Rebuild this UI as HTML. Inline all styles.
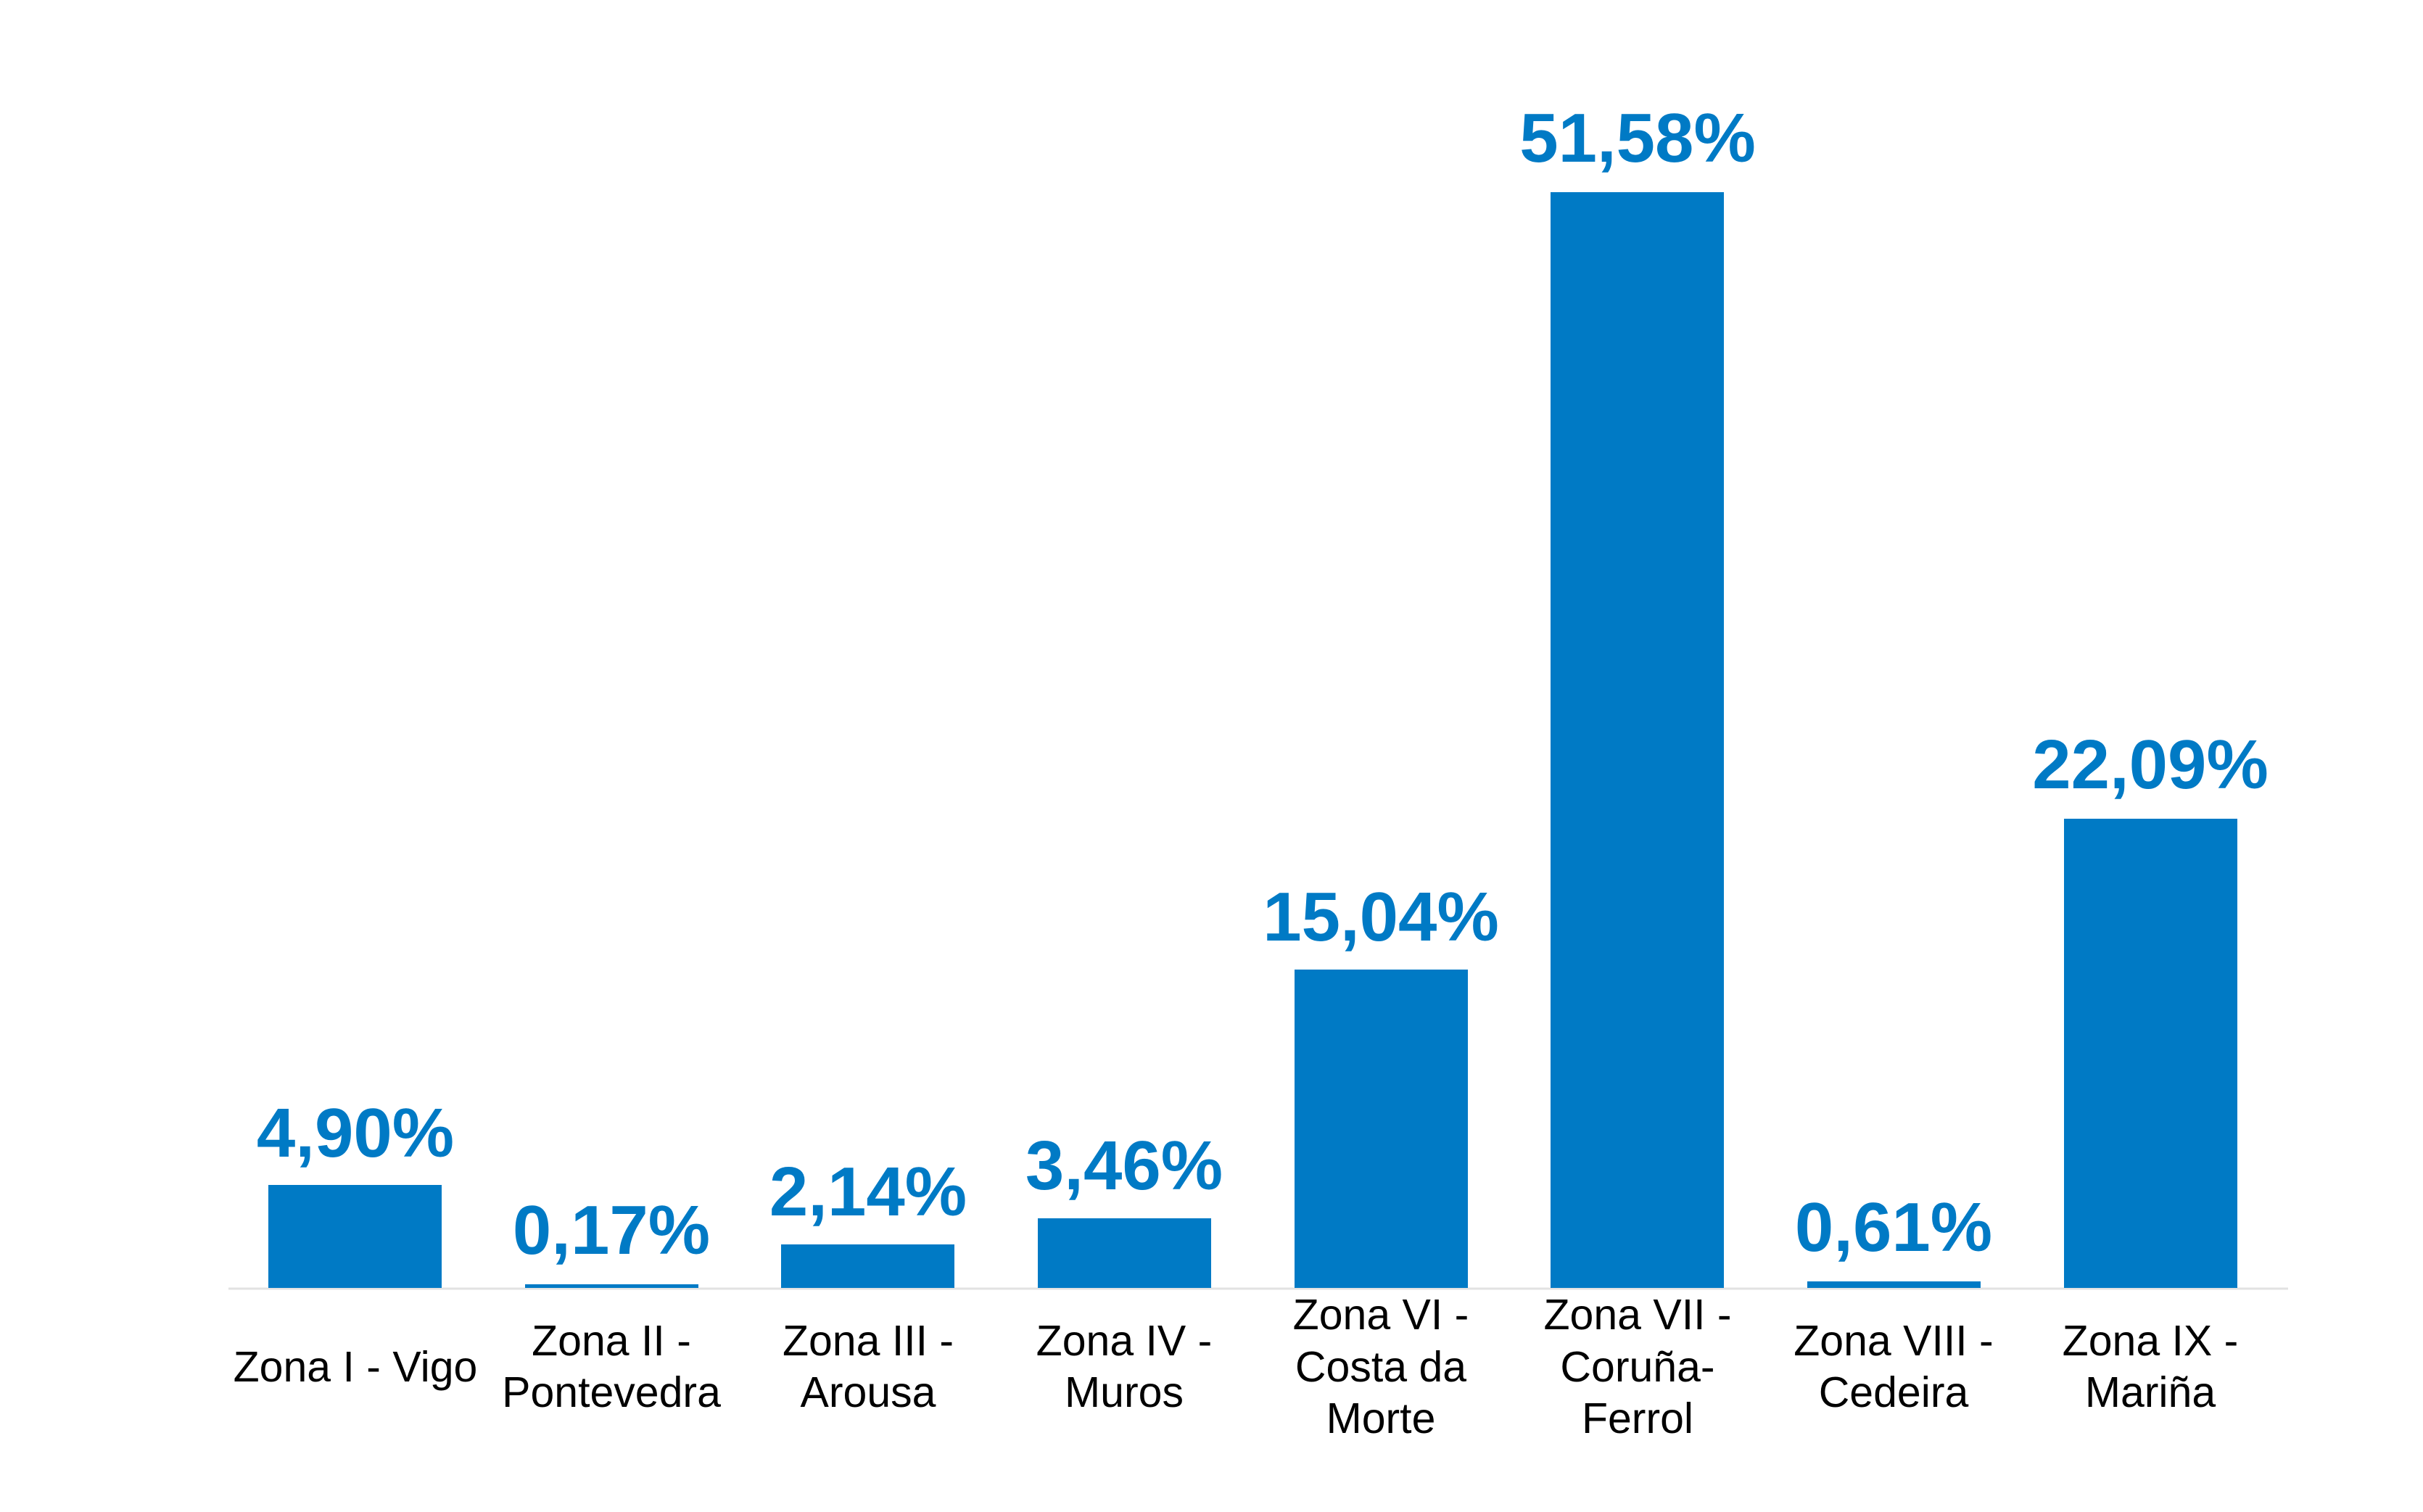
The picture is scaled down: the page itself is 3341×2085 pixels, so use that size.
<!DOCTYPE html>
<html><head><meta charset="utf-8"><style>
html,body{margin:0;padding:0;background:#fff;}
svg{display:block;}
</style></head><body>
<svg width="3341" height="2085" viewBox="0 0 3341 2085" xmlns="http://www.w3.org/2000/svg">
<rect width="3341" height="2085" fill="#fff"/>
<line x1="315" y1="1777" x2="3155" y2="1777" stroke="#e2e2e2" stroke-width="3"/>
<g fill="#007ac5">
<rect x="370" y="1634" width="239" height="142"/>
<rect x="724" y="1771" width="239" height="5"/>
<rect x="1077" y="1716" width="239" height="60"/>
<rect x="1431" y="1680" width="239" height="96"/>
<rect x="1785" y="1337" width="239" height="439"/>
<rect x="2138" y="265" width="239" height="1511"/>
<rect x="2492" y="1767" width="239" height="9"/>
<rect x="2846" y="1129" width="239" height="647"/>
</g>
<g fill="#007ac5" font-family="Liberation Sans, sans-serif" font-weight="bold" font-size="96" text-anchor="middle">
<text x="490" y="1595">4,90%</text>
<text x="843" y="1729">0,17%</text>
<text x="1197" y="1676">2,14%</text>
<text x="1550" y="1640">3,46%</text>
<text x="1904" y="1297">15,04%</text>
<text x="2258" y="223">51,58%</text>
<text x="2611" y="1725">0,61%</text>
<text x="2965" y="1087">22,09%</text>
</g>
<g fill="#000" font-family="Liberation Sans, sans-serif" font-size="59" text-anchor="middle">
<text x="490" y="1905">Zona I - Vigo</text>
<text x="843" y="1869">Zona II -</text><text x="843" y="1940">Pontevedra</text>
<text x="1197" y="1869">Zona III -</text><text x="1197" y="1940">Arousa</text>
<text x="1550" y="1869">Zona IV -</text><text x="1550" y="1940">Muros</text>
<text x="1904" y="1833">Zona VI -</text><text x="1904" y="1905">Costa da</text><text x="1904" y="1976">Morte</text>
<text x="2258" y="1833">Zona VII -</text><text x="2258" y="1905">Coruña-</text><text x="2258" y="1976">Ferrol</text>
<text x="2611" y="1869">Zona VIII -</text><text x="2611" y="1940">Cedeira</text>
<text x="2965" y="1869">Zona IX -</text><text x="2965" y="1940">Mariña</text>
</g>
</svg>
</body></html>
